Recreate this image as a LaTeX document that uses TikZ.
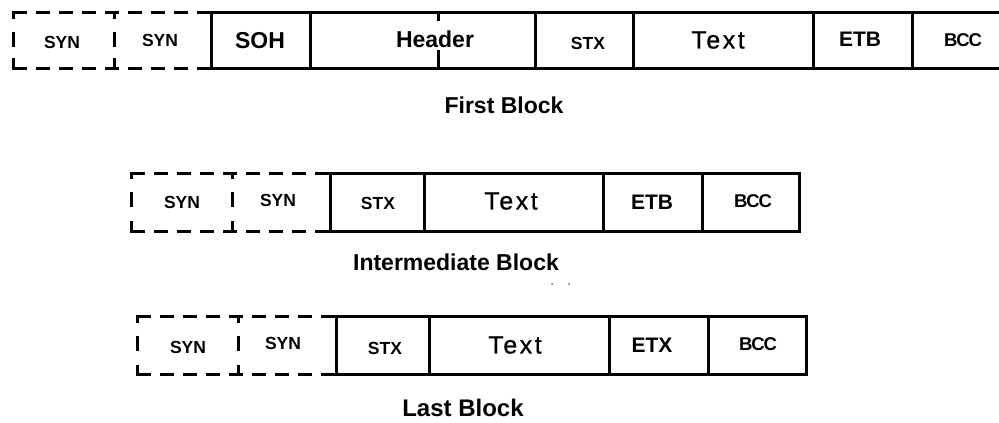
\documentclass[tikz,border=0pt]{standalone}
\usepackage{fontspec}
\setmainfont{Liberation Sans}
\newfontfamily\textfam[LetterSpace=10,FakeBold=0.8]{Liberation Sans}
\newfontfamily\bccfam[LetterSpace=-6]{Liberation Sans}
\begin{document}
\begin{tikzpicture}[x=1pt,y=-1pt,
  solidline/.style={line width=3pt, line cap=rect},
  synline/.style={line width=3pt, dash pattern=on 14pt off 9pt},
  synseg/.style={line width=3pt},
  lab/.style={inner sep=0pt, anchor=center, text=black},
  small/.style={lab, font=\fontsize{17.5}{18}\selectfont\bfseries},
  mid/.style={lab, font=\fontsize{21}{22}\selectfont\bfseries},
  big/.style={lab, font=\fontsize{23}{24}\selectfont\bfseries},
  txt/.style={lab, font=\fontsize{25}{26}\textfam},
  bcc/.style={lab, font=\fontsize{18.5}{19}\bccfam\bfseries},
  caption/.style={lab, font=\fontsize{23}{24}\selectfont\bfseries}]
\useasboundingbox (0,0) rectangle (999,423);
\clip (0,0) rectangle (999,423);
\fill[white] (0,0) rectangle (999,423);

% macro for dashed SYN boxes
\newcommand\mysynbox[5]{%
  \draw[synline] (#1,#4) -- (#3,#4);
  \draw[synline] (#1,#5) -- (#3,#5);
  \foreach \xx in {#1,#2}{
    \draw[synseg] (\xx,#4-1.5) -- (\xx,#4+6);
    \draw[synseg] (\xx,#4+19) -- (\xx,#4+34);
    \draw[synseg] (\xx,#5-10) -- (\xx,#5+1.5);
  }
}

% ---------- Row 1 ----------
\mysynbox{13}{114}{211}{12.5}{68.3}
\draw[solidline] (211,12.5) -- (1010,12.5);
\draw[solidline] (211,68.3) -- (1010,68.3);
\foreach \xx in {211,310,535,633,813,912}{
  \draw[solidline] (\xx,12.5) -- (\xx,68.3);
}
\draw[solidline] (438,12.5) -- (438,19);
\draw[solidline] (438,51) -- (438,68.3);

\node[small] (r1syn1) at (62,42) {SYN};
\node[small] (r1syn2) at (160,40) {SYN};
\node[big]   (r1soh)  at (260,41) {SOH};
\node[big]   (r1hdr)  at (435,39) {Header};
\node[small] (r1stx)  at (588,43) {STX};
\node[txt]   (r1txt)  at (718,40) {Text};
\node[mid]   (r1etb)  at (860,39) {ETB};
\node[bcc]   (r1bcc)  at (963,40) {BCC};
\node[caption] (cap1) at (504,105) {First Block};

% ---------- Row 2 ----------
\mysynbox{131}{232}{330}{173}{231}
\draw[solidline] (330,173) rectangle (799,231);
\foreach \xx in {424,603,702}{
  \draw[solidline] (\xx,173) -- (\xx,231);
}
\node[small] (r2syn1) at (182,202) {SYN};
\node[small] (r2syn2) at (278,200) {SYN};
\node[small] (r2stx)  at (378,203) {STX};
\node[txt]   (r2txt)  at (511,201) {Text};
\node[mid]   (r2etb)  at (652,202) {ETB};
\node[bcc]   (r2bcc)  at (753,201) {BCC};
\node[caption] (cap2) at (456,262) {Intermediate Block};
\fill[black!60] (552,284) circle (1pt) (569,284) circle (1pt);

% ---------- Row 3 ----------
\mysynbox{137}{238}{336}{316.5}{374.5}
\draw[solidline] (336,316.5) rectangle (806,374.5);
\foreach \xx in {429,609,708}{
  \draw[solidline] (\xx,316.5) -- (\xx,374.5);
}
\node[small] (r3syn1) at (188,347) {SYN};
\node[small] (r3syn2) at (283,343) {SYN};
\node[small] (r3stx)  at (385,348) {STX};
\node[txt]   (r3txt)  at (515,345) {Text};
\node[mid]   (r3etx)  at (652,345) {ETX};
\node[bcc]   (r3bcc)  at (758,344) {BCC};
\node[caption, font=\fontsize{24}{25}\selectfont\bfseries] (cap3) at (463,408) {Last Block};
\end{tikzpicture}
\end{document}
